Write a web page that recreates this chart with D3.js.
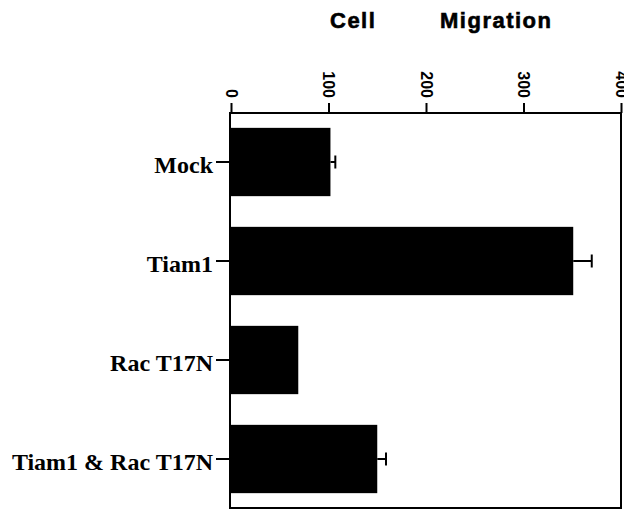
<!DOCTYPE html>
<html>
<head>
<meta charset="utf-8">
<script src="https://cdn.jsdelivr.net/npm/d3@7"></script>
<style>
  body { margin: 0; background: #fff; }
  svg { display: block; }
</style>
</head>
<body>
<div id="chart"></div>
<script>
// data
var categories = ["Mock", "Tiam1", "Rac T17N", "Tiam1 & Rac T17N"];
var values = [102, 351, 69, 150];
var errors = [5, 19, 0, 9];
var xTicks = [0, 100, 200, 300, 400];

var W = 624, H = 512;
var margin = {top: 113, right: 3, bottom: 4, left: 230};
var width = W - margin.left - margin.right,
    height = H - margin.top - margin.bottom;

var svg = d3.select("#chart")
  .append("svg")
    .attr("width", W)
    .attr("height", H)
  .append("g")
    .attr("transform", "translate(" + margin.left + "," + margin.top + ")");

// scales
var x = d3.scaleLinear()
  .domain([0, 400])
  .range([1, width]);

var y = d3.scaleBand()
  .domain(categories)
  .range([0, height])
  .paddingInner(0.31)
  .paddingOuter(0.15);

// title
var title = svg.append("text")
  .attr("y", 28 - margin.top)
  .style("font-family", "'Liberation Sans', Arial, sans-serif")
  .style("font-weight", "bold")
  .style("font-size", "22px")
  .style("letter-spacing", "1.5px")
  .style("stroke", "#000")
  .style("stroke-width", 0.6)
  .style("fill", "#000");
title.append("tspan").attr("x", 330 - margin.left).text("Cell");
title.append("tspan").attr("x", 440 - margin.left).text("Migration");

// bars
svg.selectAll(".bar")
  .data(categories)
  .enter()
  .append("rect")
    .attr("class", "bar")
    .attr("x", x(0))
    .attr("y", function(d) { return y(d); })
    .attr("width", function(d, i) { return x(values[i]) - x(0); })
    .attr("height", y.bandwidth())
    .style("fill", "#000");

// error bars (one-sided, to the right)
var eb = svg.selectAll(".err")
  .data(categories.filter(function(d, i) { return errors[i] > 0; }))
  .enter()
  .append("g")
    .attr("class", "err")
    .style("stroke", "#000")
    .style("stroke-width", 2);

eb.append("line")
  .attr("x1", function(d) { var i = categories.indexOf(d); return x(values[i]); })
  .attr("x2", function(d) { var i = categories.indexOf(d); return x(values[i] + errors[i]); })
  .attr("y1", function(d) { return y(d) + y.bandwidth() / 2; })
  .attr("y2", function(d) { return y(d) + y.bandwidth() / 2; });

eb.append("line")
  .attr("x1", function(d) { var i = categories.indexOf(d); return x(values[i] + errors[i]); })
  .attr("x2", function(d) { var i = categories.indexOf(d); return x(values[i] + errors[i]); })
  .attr("y1", function(d) { return y(d) + y.bandwidth() / 2 - 6.5; })
  .attr("y2", function(d) { return y(d) + y.bandwidth() / 2 + 6.5; });

// frame
svg.append("rect")
  .attr("x", 0)
  .attr("y", 0)
  .attr("width", width)
  .attr("height", height)
  .style("fill", "none")
  .style("stroke", "#000")
  .style("stroke-width", 2);

// top axis with rotated labels
var xAxis = svg.append("g")
  .call(d3.axisTop(x).tickValues(xTicks).tickSize(10).tickFormat(d3.format("d")));
xAxis.select(".domain").remove();
xAxis.selectAll("line").style("stroke-width", 2);
xAxis.selectAll("text")
  .attr("transform", "rotate(90)")
  .attr("x", -15)
  .attr("y", 0)
  .attr("dy", "0.35em")
  .style("text-anchor", "end")
  .style("font-family", "'Liberation Sans', Arial, sans-serif")
  .style("font-weight", "bold")
  .style("font-size", "16px")
  .style("fill", "#000");

// left category axis
var yAxis = svg.append("g")
  .call(d3.axisLeft(y).tickSize(14).tickPadding(3));
yAxis.select(".domain").remove();
yAxis.selectAll("line").style("stroke-width", 2);
yAxis.selectAll("text")
  .attr("dy", "0.45em")
  .style("font-family", "'Liberation Serif', 'Times New Roman', serif")
  .style("font-weight", "bold")
  .style("font-size", "24px")
  .style("fill", "#000");
</script>
</body>
</html>
